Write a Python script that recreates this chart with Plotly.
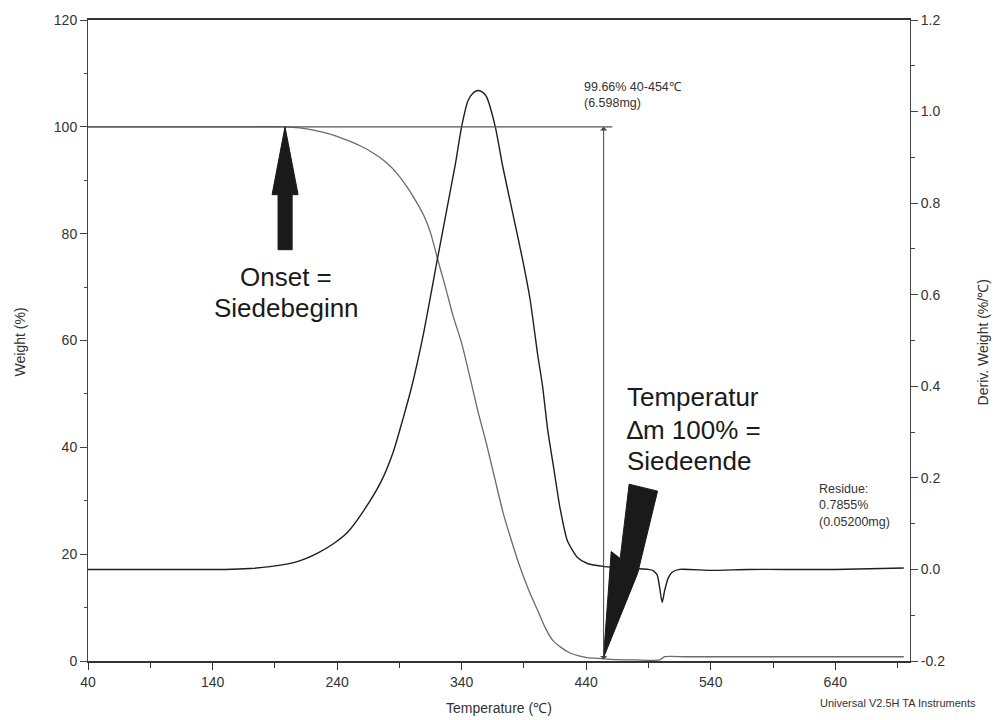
import plotly.graph_objects as go

# ---------------- data ----------------
tg_temp = [40, 100, 160, 198, 210, 221, 235, 248, 258, 269, 279, 288, 296, 304, 310, 315, 321,
           327, 333, 340, 347, 353, 360, 367, 373, 380, 387, 394, 401, 407, 413, 420, 427, 435,
           442, 449, 460, 480, 499, 503, 520, 600, 695]
tg_weight = [100.0, 100.0, 100.0, 100.0, 99.8, 99.4, 98.6, 97.5, 96.5, 95.1, 93.4, 91.3, 88.8,
             85.8, 83.2, 80.2, 75.0, 70.0, 64.7, 59.5, 52.8, 46.8, 40.6, 33.8, 28.0, 22.5, 17.5,
             13.2, 9.5, 6.3, 3.9, 2.5, 1.5, 0.9, 0.6, 0.5, 0.3, 0.2, 0.2, 0.8, 0.8, 0.8, 0.8]

dtg_temp = [40, 100, 150, 170, 186, 208, 224, 237, 248, 261, 275, 285, 293, 300, 309, 320, 328,
            335, 340, 345, 349, 353, 357, 360, 367, 373, 381, 389, 395, 401, 405, 409, 414, 419,
            425, 433, 441, 455, 470, 490, 494, 497, 499, 501, 503, 506, 509, 515, 540, 570, 600,
            640, 695]
dtg_value = [0.0, 0.0, 0.0, 0.002, 0.006, 0.017, 0.035, 0.056, 0.08, 0.127, 0.19, 0.256, 0.33,
             0.40, 0.51, 0.67, 0.785, 0.886, 0.967, 1.023, 1.040, 1.046, 1.042, 1.032, 0.967,
             0.88, 0.778, 0.676, 0.589, 0.47, 0.40, 0.307, 0.22, 0.134, 0.062, 0.026, 0.013,
             0.006, 0.003, 0.0, -0.003, -0.012, -0.04, -0.072, -0.046, -0.018, -0.006, 0.0,
             -0.002, 0.0, 0.0, 0.0, 0.003]

x_ticks = [40, 140, 240, 340, 440, 540, 640]
y_ticks = [0, 20, 40, 60, 80, 100, 120]
y2_ticks = [-0.2, 0.0, 0.2, 0.4, 0.6, 0.8, 1.0, 1.2]
y2_ticklabels = ["-0.2", "0.0", "0.2", "0.4", "0.6", "0.8", "1.0", "1.2"]

step_temp_start, step_temp_end = 40, 454
step_weight = 100
residue_weight = 0.0

FONT = "Liberation Sans, Arial, sans-serif"
TXT = "#333333"

fig = go.Figure()
fig.add_trace(go.Scatter(x=tg_temp, y=tg_weight, mode="lines",
                         line=dict(color="#6a6a6a", width=1.3, shape="spline", smoothing=0.6),
                         yaxis="y", showlegend=False))
fig.add_trace(go.Scatter(x=dtg_temp, y=dtg_value, mode="lines",
                         line=dict(color="#1e1e1e", width=1.4, shape="spline", smoothing=0.6),
                         yaxis="y2", showlegend=False))

# step analysis: horizontal line at 100 %, vertical double arrow at 454 C
fig.add_shape(type="line", x0=step_temp_start, x1=461, y0=step_weight, y1=step_weight,
              xref="x", yref="y", line=dict(color="#555555", width=1.3))
fig.add_annotation(x=step_temp_end, y=step_weight, ax=step_temp_end, ay=residue_weight,
                   xref="x", yref="y", axref="x", ayref="y", text="", showarrow=True,
                   arrowhead=1, arrowside="end+start", arrowsize=1.2, arrowwidth=1,
                   arrowcolor="#444444")

# big black arrows (annotation shapes)
onset_arrow = "M 187.8,87.3 L 192.6,87.3 L 192.6,77.0 L 203.9,77.0 L 203.9,87.3 L 208.7,87.3 L 198.2,100.0 Z"
end_arrow = "M 474.5,33.1 L 497.3,31.8 L 481.3,16.4 L 453.9,0.6 L 460.1,20.5 L 467.3,19.2 Z"
for p in (onset_arrow, end_arrow):
    fig.add_shape(type="path", path=p, xref="x", yref="y",
                  fillcolor="#1a1a1a", line=dict(color="#1a1a1a", width=1))

big = dict(family=FONT, size=26, color="#1a1a1a")
fig.add_annotation(x=199, y=71.8, text="Onset =", showarrow=False, xref="x", yref="y",
                   xanchor="center", yanchor="middle", font=big)
fig.add_annotation(x=199, y=66.0, text="Siedebeginn", showarrow=False, xref="x", yref="y",
                   xanchor="center", yanchor="middle", font=big)
for yy, t in ((49.5, "Temperatur"), (43.3, "\u2206m 100% ="), (37.4, "Siedeende")):
    fig.add_annotation(x=471.3, y=yy, text=t, showarrow=False, xref="x", yref="y",
                       xanchor="left", yanchor="middle", font=big)

small = dict(family=FONT, size=12.5, color=TXT)
fig.add_annotation(x=436.8, y=105.9, text="99.66% 40-454\u2103<br>(6.598mg)", showarrow=False,
                   xref="x", yref="y", xanchor="left", yanchor="middle", align="left", font=small)
fig.add_annotation(x=625.5, y=29.2, text="Residue:<br>0.7855%<br>(0.05200mg)", showarrow=False,
                   xref="x", yref="y", xanchor="left", yanchor="middle", align="left", font=small)

# axis titles and footer
fig.add_annotation(x=0.5, y=-0.0728, xref="paper", yref="paper", text="Temperature (\u2103)",
                   showarrow=False, xanchor="center", yanchor="middle",
                   font=dict(family=FONT, size=14, color=TXT))
fig.add_annotation(x=-0.0827, y=0.497, xref="paper", yref="paper", text="Weight (%)",
                   showarrow=False, textangle=-90, xanchor="center", yanchor="middle",
                   font=dict(family=FONT, size=14, color=TXT))
fig.add_annotation(x=1.0888, y=0.497, xref="paper", yref="paper", text="Deriv. Weight (%/\u2103)",
                   showarrow=False, textangle=-90, xanchor="center", yanchor="middle",
                   font=dict(family=FONT, size=14, color=TXT))
fig.add_annotation(x=0.888, y=-0.065, xref="paper", yref="paper",
                   text="Universal V2.5H TA Instruments", showarrow=False,
                   xanchor="left", yanchor="middle", font=dict(family=FONT, size=11, color=TXT))

tickfont = dict(family=FONT, size=14, color=TXT)
fig.update_layout(
    width=999, height=720,
    margin=dict(l=88, r=89, t=15, b=59),
    paper_bgcolor="white", plot_bgcolor="white",
    xaxis=dict(range=[40, 700], tickvals=x_ticks, ticks="outside", ticklen=7, tickwidth=1,
               tickcolor="#333", showline=True, linecolor="#333", linewidth=1.5, mirror=True,
               showgrid=False, zeroline=False, tickfont=tickfont,
               minor=dict(ticks="outside", ticklen=5, tick0=40, dtick=50, tickcolor="#333")),
    yaxis=dict(range=[0, 120], tickvals=y_ticks, ticks="outside", ticklen=7, tickcolor="#444",
               showline=True, linecolor="#444", linewidth=1, showgrid=False, zeroline=False,
               tickfont=tickfont,
               minor=dict(ticks="outside", ticklen=3, tick0=0, dtick=10, tickcolor="#444")),
    yaxis2=dict(range=[-0.2, 1.2], overlaying="y", side="right", tickvals=y2_ticks,
                ticktext=y2_ticklabels, ticks="outside", ticklen=7, tickcolor="#444",
                showline=True, linecolor="#444", linewidth=1, showgrid=False, zeroline=False,
                tickfont=tickfont,
                minor=dict(ticks="outside", ticklen=4, tick0=0, dtick=0.1, tickcolor="#444")),
)

fig.write_html("out.html")
